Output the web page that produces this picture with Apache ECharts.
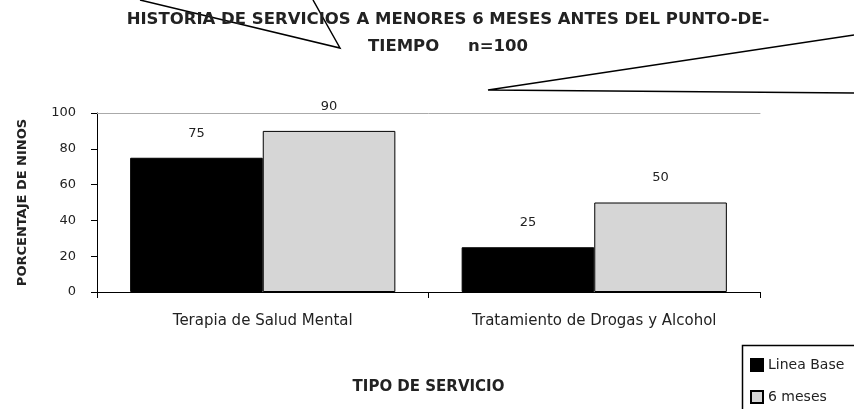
<!DOCTYPE html>
<html>
<head>
<meta charset="utf-8">
<script src="https://cdn.jsdelivr.net/npm/echarts@6/dist/echarts.min.js"></script>
<style>html,body{margin:0;padding:0;background:#fff}#c{width:854px;height:409px}</style>
</head>
<body>
<div id="c"></div>
<script>
var categories = ['Terapia de Salud Mental', 'Tratamiento de Drogas y Alcohol'];
var seriesNames = ['Linea Base', '6 meses'];
var baseValues = [75, 25];
var sixMonthValues = [90, 50];
var yTicks = [0, 20, 40, 60, 80, 100];
var titleText = 'HISTORIA DE SERVICIOS A MENORES 6 MESES ANTES DEL PUNTO-DE-\nTIEMPO     n=100';
var yName = 'PORCENTAJE DE NINOS';
var xName = 'TIPO DE SERVICIO';

var FF = '"DejaVu Sans", sans-serif';
var chart = echarts.init(document.getElementById('c'), null, {renderer: 'canvas'});
var labelCfg = {show: true, position: 'top', distance: 18, color: '#222', fontSize: 13, fontFamily: FF};
chart.setOption({
  animation: false,
  backgroundColor: '#fff',
  title: {
    text: titleText, left: 448, top: 6, textAlign: 'center', padding: 0,
    textStyle: {fontFamily: FF, fontWeight: 'bold', fontSize: 16.5, color: '#222', lineHeight: 27}
  },
  grid: {left: 97, right: 94, top: 113, bottom: 117},
  legend: {
    orient: 'vertical', left: 742, top: 345, itemWidth: 12, itemHeight: 12, itemGap: 18,
    padding: [13, 0, 0, 8], icon: 'rect',
    textStyle: {fontFamily: FF, fontSize: 14, color: '#222', lineHeight: 12},
    data: seriesNames
  },
  xAxis: [{
    type: 'category', data: categories,
    axisLine: {lineStyle: {color: '#000', width: 1}},
    axisTick: {show: true, length: 6, lineStyle: {color: '#000'}},
    axisLabel: {color: '#222', fontSize: 15, fontFamily: FF, margin: 22},
    name: xName, nameLocation: 'middle', nameGap: 88,
    nameTextStyle: {fontFamily: FF, fontWeight: 'bold', fontSize: 15, color: '#222'}
  }, {
    type: 'category', data: categories, position: 'top',
    axisLine: {lineStyle: {color: '#aaa', width: 1}},
    axisTick: {show: false}, axisLabel: {show: false}
  }],
  yAxis: {
    type: 'value', min: yTicks[0], max: yTicks[yTicks.length - 1], interval: 20,
    axisLine: {show: true, lineStyle: {color: '#000'}},
    axisTick: {show: true, length: 6, lineStyle: {color: '#000'}},
    splitLine: {show: false},
    axisLabel: {color: '#222', fontSize: 13, fontFamily: FF, margin: 21},
    name: yName, nameLocation: 'middle', nameRotate: 90, nameGap: 68,
    nameTextStyle: {fontFamily: FF, fontWeight: 'bold', fontSize: 13, color: '#222'}
  },
  series: [{
    name: seriesNames[0], type: 'bar', data: baseValues, barGap: '0%', barCategoryGap: '20%',
    itemStyle: {color: '#000', borderColor: '#000', borderWidth: 1},
    label: labelCfg
  }, {
    name: seriesNames[1], type: 'bar', data: sixMonthValues,
    itemStyle: {color: '#d6d6d6', borderColor: '#000', borderWidth: 1},
    label: labelCfg
  }],
  graphic: [
    {type: 'polyline', shape: {points: [[140, 0], [340, 48], [313, 0]]}, style: {stroke: '#000', lineWidth: 1.5, fill: null}},
    {type: 'polyline', shape: {points: [[854, 35], [488, 90], [854, 93]]}, style: {stroke: '#000', lineWidth: 1.5, fill: null}},
    {type: 'rect', z: -1, shape: {x: 742.5, y: 345.5, width: 200, height: 100}, style: {stroke: '#000', lineWidth: 1.5, fill: '#fff'}}
  ]
});
</script>
</body>
</html>
